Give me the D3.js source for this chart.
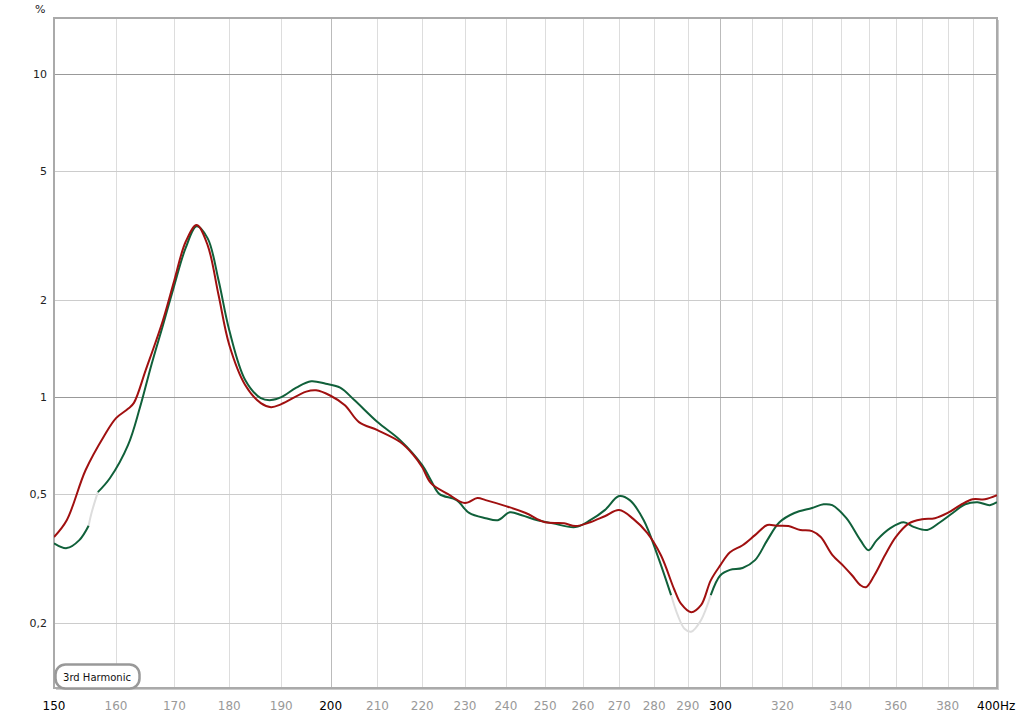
<!DOCTYPE html>
<html><head><meta charset="utf-8">
<script src="https://cdn.jsdelivr.net/npm/d3@7"></script>
<style>body{margin:0;background:#fff}svg{display:block}</style>
</head><body><svg id="c" width="1024" height="719"></svg>
<script>
const xTicks=[150,160,170,180,190,200,210,220,230,240,250,260,270,280,290,300,320,340,360,380,400];
const xGrid=[160,170,180,190,200,210,220,230,240,250,260,270,280,290,300,310,320,330,340,350,360,370,380,390];
const xDark=[150,200,300,400];
const yTicks=[10,5,2,1,0.5,0.2];
const yTickLabels=["10","5","2","1","0,5","0,2"];
const redF=[150,152,155,158,160,162,163,165,168,170,172,174,176,178,180,183,186,188,190,195,197,200,203,206,210,215,218,220,222,226,230,233,235,240,245,250,255,258,262,266,270,274,278,282,286,288,291,294,297,300,303,307,311,315,318,322,326,330,333,337,341,344,347,349,352,356,360,365,370,375,380,385,390,395,400];
const redV=[0.369,0.416,0.594,0.757,0.861,0.92,0.96,1.21,1.73,2.3,3.02,3.41,2.95,2.07,1.45,1.09,0.958,0.931,0.951,1.04,1.05,1.01,0.944,0.837,0.79,0.726,0.662,0.607,0.542,0.501,0.47,0.487,0.48,0.46,0.438,0.41,0.407,0.399,0.41,0.428,0.447,0.42,0.38,0.324,0.253,0.229,0.216,0.227,0.271,0.302,0.331,0.348,0.374,0.402,0.40,0.399,0.388,0.385,0.369,0.325,0.30,0.281,0.262,0.258,0.28,0.324,0.369,0.407,0.419,0.422,0.438,0.463,0.483,0.483,0.497];
const greenF=[150,152,154,155.5,156,157,159,162,164,166,168,170,172,174,176,178,180,183,186,188,190,193,196,199,202,205,210,215,220,222,224,228,231,235,238,241,244,248,252,258,262,266,270,273,277,281,285,287,289,291,294,297,300,303,307,311,315,319,324,330,334,337,342,347,350,353,358,363,367,372,377,382,387,392,397,400];
const greenV=[0.353,0.341,0.361,0.40,0.44,0.508,0.562,0.71,0.925,1.26,1.67,2.22,2.89,3.38,3.1,2.3,1.61,1.13,0.993,0.979,1.0,1.07,1.12,1.10,1.07,0.979,0.837,0.736,0.616,0.553,0.501,0.48,0.438,0.422,0.416,0.44,0.431,0.416,0.407,0.396,0.416,0.447,0.494,0.48,0.416,0.324,0.244,0.211,0.192,0.188,0.204,0.244,0.281,0.292,0.296,0.313,0.361,0.41,0.438,0.454,0.466,0.463,0.422,0.361,0.336,0.361,0.393,0.41,0.396,0.388,0.41,0.438,0.466,0.473,0.463,0.473];
const greyRanges=[[155.5,157],[285,297]];

const svg=d3.select("#c");
const L=54,R=997,T=18,B=688;
const FONT="Verdana, DejaVu Sans, sans-serif";
const x=d3.scaleLog().domain([150,400]).range([L,R]);
const y=d3.scaleLog().domain([0.2*10**(-(688-623)/323),10*10**((74-18)/323)]).range([B,T]);
svg.append("rect").attr("x",L+2).attr("y",T+2).attr("width",R-L).attr("height",B-T).attr("fill","#ccc");
svg.append("rect").attr("x",L).attr("y",T).attr("width",R-L).attr("height",B-T).attr("fill","#fff");
const g=svg.append("g");
g.selectAll(".vg").data(xGrid).join("line").attr("x1",d=>Math.round(x(d))+0.5).attr("x2",d=>Math.round(x(d))+0.5).attr("y1",T).attr("y2",B)
 .attr("stroke",d=>xDark.includes(d)?"#bbb":"#ddd").attr("stroke-width",1);
g.selectAll(".hg").data(yTicks).join("line").attr("x1",L).attr("x2",R).attr("y1",d=>Math.round(y(d))+0.5).attr("y2",d=>Math.round(y(d))+0.5)
 .attr("stroke",d=>(d===10||d===1)?"#999":"#ccc");
svg.append("rect").attr("x",L).attr("y",T).attr("width",R-L).attr("height",B-T).attr("fill","none").attr("stroke","#aaa").attr("stroke-width",2);
svg.selectAll(".yl").data(yTicks).join("text").attr("x",47).attr("y",d=>y(d)+4).attr("text-anchor","end")
 .attr("font-family",FONT).attr("font-size",11).attr("fill","#222").text((d,i)=>yTickLabels[i]);
svg.append("text").attr("x",35).attr("y",13).attr("font-family",FONT).attr("font-size",11).attr("fill","#222").text("%");
svg.selectAll(".xl").data(xTicks).join("text").attr("x",d=>d===400?x(d)-20:x(d)).attr("y",710).attr("text-anchor",d=>d===400?"start":"middle")
 .attr("font-family",FONT).attr("font-size",12).attr("fill",d=>xDark.includes(d)?"#000":"#999")
 .text(d=>d===400?"400Hz":d);
svg.append("clipPath").attr("id","cp").append("rect").attr("x",L).attr("y",T).attr("width",R-L).attr("height",B-T);
const line=d3.line().x(d=>x(d[0])).y(d=>y(d[1])).curve(d3.curveCatmullRom.alpha(0.5));
const gp=greenF.map((f,i)=>[f,greenV[i]]);
const rp=redF.map((f,i)=>[f,redV[i]]);
const cg=svg.append("g").attr("clip-path","url(#cp)");
greyRanges.forEach(r=>{
  cg.append("path").attr("d",line(gp.filter(p=>p[0]>=r[0]&&p[0]<=r[1]))).attr("fill","none").attr("stroke","#ddd").attr("stroke-width",2);
});
const inGrey=f=>greyRanges.some(r=>f>r[0]&&f<r[1]);
cg.append("path").attr("d",line.defined(d=>!inGrey(d[0]))(gp)).attr("fill","none").attr("stroke","#10603a").attr("stroke-width",2);
line.defined(()=>true);
cg.append("path").attr("d",line(rp)).attr("fill","none").attr("stroke","#a01010").attr("stroke-width",2);
svg.append("rect").attr("x",55.5).attr("y",664.5).attr("width",84).attr("height",24).attr("rx",10).attr("fill","#fff").attr("stroke","#999").attr("stroke-width",2.5);
svg.append("text").attr("x",97).attr("y",681).attr("text-anchor","middle").attr("font-family",FONT).attr("font-size",10).attr("fill","#111").text("3rd Harmonic");
</script></body></html>
